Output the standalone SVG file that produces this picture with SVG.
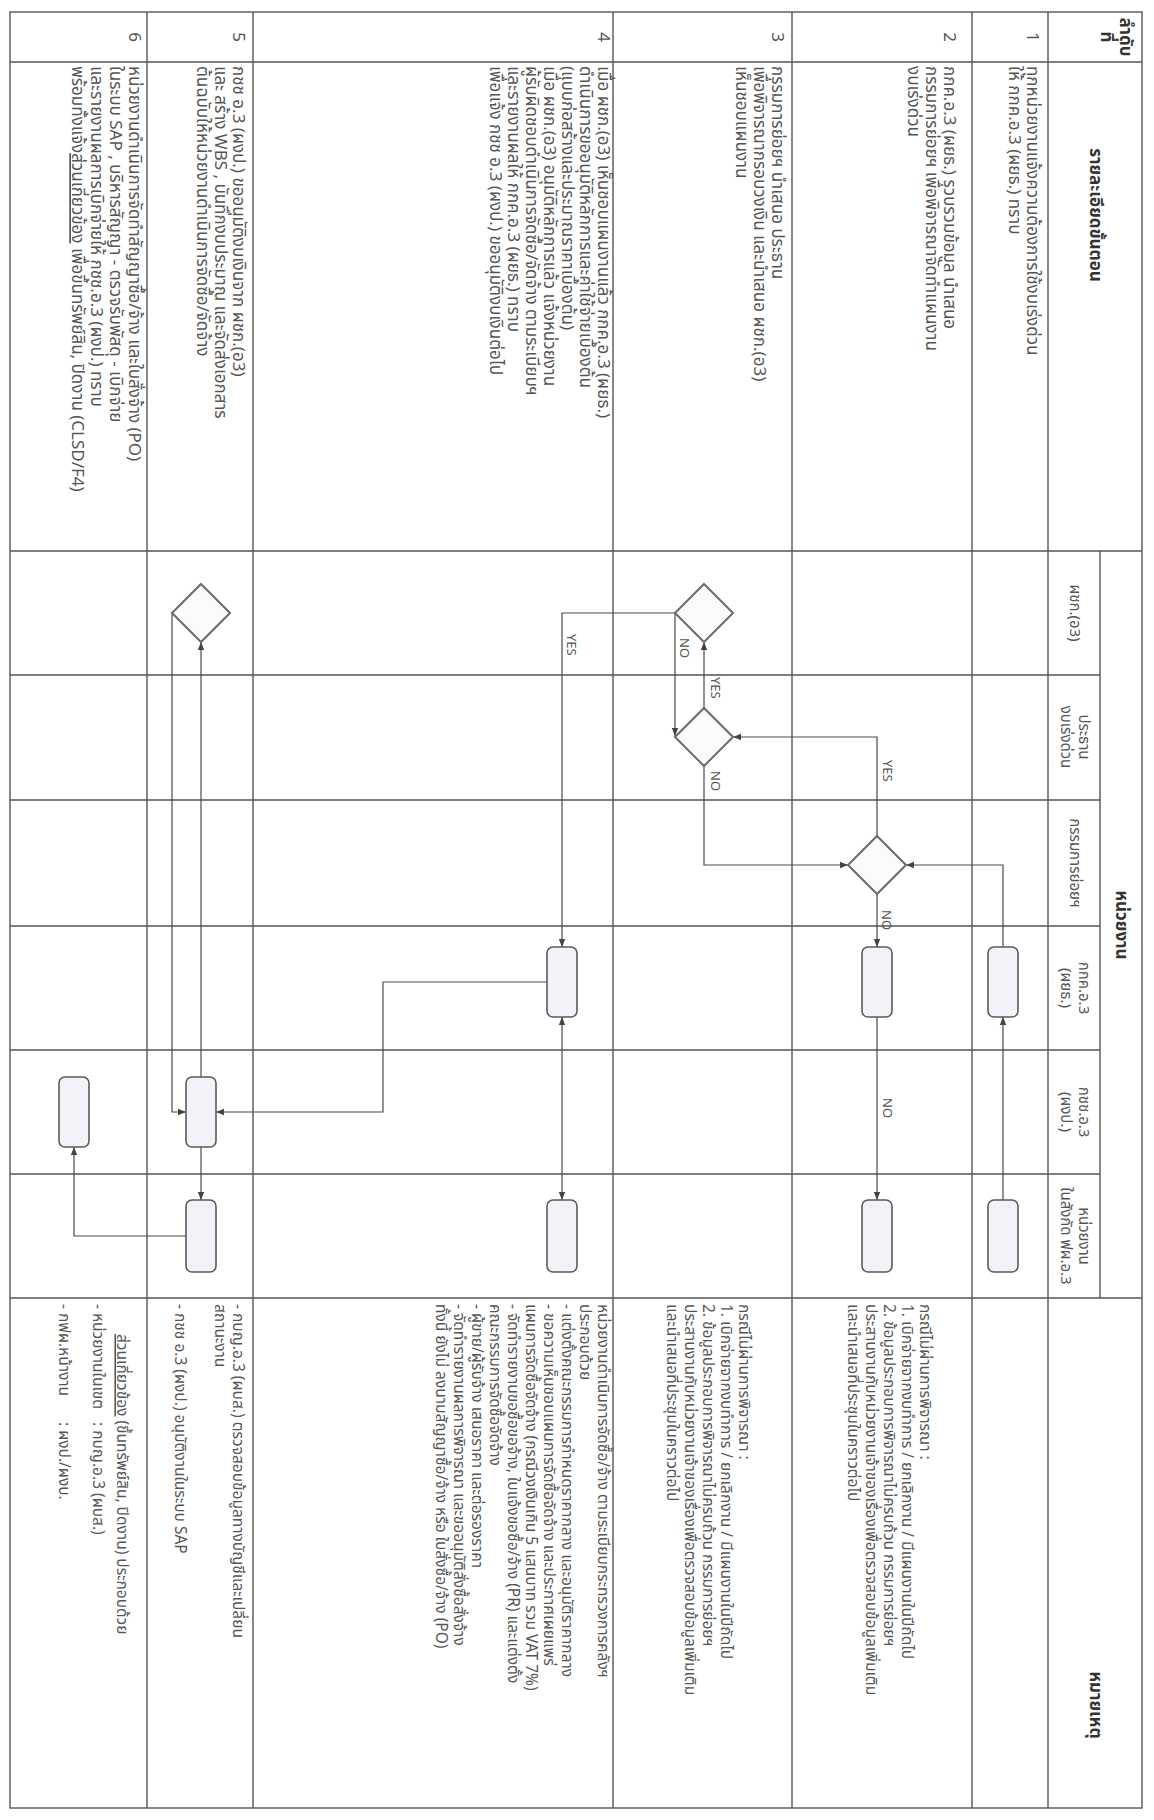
<svg xmlns="http://www.w3.org/2000/svg" width="1154" height="1820" viewBox="0 0 1154 1820">
<defs>
<marker id="ah" viewBox="0 0 10 10" refX="10" refY="5" markerWidth="8" markerHeight="8" orient="auto-start-reverse" markerUnits="userSpaceOnUse"><path d="M0,1 L10,5 L0,9 z" fill="#444"/></marker>
<style>
.t{font-family:"Noto Sans Thai","Noto Sans","DejaVu Sans",sans-serif;font-size:17px;fill:#555}
.n{font-size:15.5px}
.s{font-size:15px}
.h{font-weight:bold;fill:#333}
.c{text-anchor:middle}
.lbl{font-family:"Noto Sans","DejaVu Sans",sans-serif;font-size:13px;fill:#555}
.g{stroke:#555;stroke-width:1.4;fill:none}
.r{fill:#f2f2f8;stroke:#5a5a5a;stroke-width:1.6}
.d{fill:#fbfbfb;stroke:#6a6a6a;stroke-width:2}
.k{fill:none;stroke:#4a4a4a;stroke-width:1.2}
.a{marker-end:url(#ah)}
.b{marker-start:url(#ah);marker-end:url(#ah)}
</style>
</defs>
<rect width="1154" height="1820" fill="#ffffff"/>
<g id="grid" class="g">
<rect x="10" y="12" width="1132" height="1796"/>
<line x1="147" y1="12" x2="147" y2="1808"/>
<line x1="253" y1="12" x2="253" y2="1808"/>
<line x1="613" y1="12" x2="613" y2="1808"/>
<line x1="792" y1="12" x2="792" y2="1808"/>
<line x1="972" y1="12" x2="972" y2="1808"/>
<line x1="1048" y1="12" x2="1048" y2="1808"/>
<line x1="1100" y1="551" x2="1100" y2="1298"/>
<line x1="10" y1="62" x2="1142" y2="62"/>
<line x1="10" y1="551" x2="1142" y2="551"/>
<line x1="10" y1="675" x2="1100" y2="675"/>
<line x1="10" y1="800" x2="1100" y2="800"/>
<line x1="10" y1="926" x2="1100" y2="926"/>
<line x1="10" y1="1050" x2="1100" y2="1050"/>
<line x1="10" y1="1174" x2="1100" y2="1174"/>
<line x1="10" y1="1298" x2="1142" y2="1298"/>
</g>
<g id="header">
<text class="t h c" transform="translate(1120,37) rotate(90)">ลำดับ</text>
<text class="t h c" transform="translate(1101,37) rotate(90)">ที่</text>
<text class="t h c" transform="translate(1090,215) rotate(90)">รายละเอียดขั้นตอน</text>
<text class="t h c" transform="translate(1116,925) rotate(90)">หน่วยงาน</text>
<text class="t h c" transform="translate(1090,1705) rotate(90)">หมายเหตุ</text>
<text class="t s c" transform="translate(1070,613) rotate(90)">ผชก.(อ3)</text>
<text class="t s c" transform="translate(1079,737) rotate(90)">ประธาน</text>
<text class="t s c" transform="translate(1061,737) rotate(90)">งบเร่งด่วน</text>
<text class="t s c" transform="translate(1070,863) rotate(90)">กรรมการย่อยฯ</text>
<text class="t s c" transform="translate(1079,988) rotate(90)">กกค.อ.3</text>
<text class="t s c" transform="translate(1061,988) rotate(90)">(ผยธ.)</text>
<text class="t s c" transform="translate(1079,1112) rotate(90)">กชช.อ.3</text>
<text class="t s c" transform="translate(1061,1112) rotate(90)">(ผงป.)</text>
<text class="t s c" transform="translate(1079,1236) rotate(90)">หน่วยงาน</text>
<text class="t s c" transform="translate(1061,1236) rotate(90)">ในสังกัด ฟผ.อ.3</text>
</g>
<g id="row1">
<text class="t c" transform="translate(1027,37) rotate(90)">1</text>
<text class="t" transform="translate(1027,66) rotate(90)">ทุกหน่วยงานแจ้งความต้องการใช้งบเร่งด่วน</text>
<text class="t" transform="translate(1009,66) rotate(90)">ให้ กกค.อ.3 (ผยธ.) ทราบ</text>
</g>
<g id="row2">
<text class="t c" transform="translate(944,37) rotate(90)">2</text>
<text class="t" transform="translate(944,66) rotate(90)">กกค.อ.3 (ผยธ.) รวบรวมข้อมูล นำเสนอ</text>
<text class="t" transform="translate(926,66) rotate(90)">กรรมการย่อยฯ เพื่อพิจารณาจัดทำแผนงาน</text>
<text class="t" transform="translate(908,66) rotate(90)">งบเร่งด่วน</text>
</g>
<g id="row3">
<text class="t c" transform="translate(772,37) rotate(90)">3</text>
<text class="t" transform="translate(772,66) rotate(90)">กรรมการย่อยฯ นำเสนอ ประธาน</text>
<text class="t" transform="translate(754,66) rotate(90)">เพื่อพิจารณากรอบวงเงิน และนำเสนอ ผชก.(อ3)</text>
<text class="t" transform="translate(736,66) rotate(90)">เห็นชอบแผนงาน</text>
</g>
<g id="row4">
<text class="t c" transform="translate(598,37) rotate(90)">4</text>
<text class="t" transform="translate(598,66) rotate(90)">เมื่อ ผชก.(อ3) เห็นชอบแผนงานแล้ว กกค.อ.3 (ผยธ.)</text>
<text class="t" transform="translate(580,66) rotate(90)">ดำเนินการขออนุมัติหลักการและค่าใช้จ่ายเบื้องต้น</text>
<text class="t" transform="translate(562,66) rotate(90)">(แบบก่อสร้างและประมาณราคาเบื้องต้น)</text>
<text class="t" transform="translate(544,66) rotate(90)">เมื่อ ผชก.(อ3) อนุมัติหลักการแล้ว แจ้งหน่วยงาน</text>
<text class="t" transform="translate(526,66) rotate(90)">ผู้รับผิดชอบดำเนินการจัดซื้อ/จัดจ้าง ตามระเบียบฯ</text>
<text class="t" transform="translate(508,66) rotate(90)">และรายงานผลให้ กกค.อ.3 (ผยธ.) ทราบ</text>
<text class="t" transform="translate(490,66) rotate(90)">เพื่อแจ้ง กชช อ.3 (ผงป.) ขออนุมัติงบเงินต่อไป</text>
</g>
<g id="row5">
<text class="t c" transform="translate(233,37) rotate(90)">5</text>
<text class="t" transform="translate(233,66) rotate(90)">กชช อ.3 (ผงป.) ขออนุมัติงบเงินจาก ผชก.(อ3)</text>
<text class="t" transform="translate(215,66) rotate(90)">และ สร้าง WBS , บันทึกงบประมาณ และจัดส่งเอกสาร</text>
<text class="t" transform="translate(197,66) rotate(90)">ต้นฉบับให้หน่วยงานดำเนินการจัดซื้อ/จัดจ้าง</text>
</g>
<g id="row6">
<text class="t c" transform="translate(129,37) rotate(90)">6</text>
<text class="t" transform="translate(129,66) rotate(90)">หน่วยงานดำเนินการจัดทำสัญญาซื้อ/จ้าง และใบสั่งจ้าง (PO)</text>
<text class="t" transform="translate(110,66) rotate(90)">ในระบบ SAP , บริหารสัญญา - ตรวจรับพัสดุ - เบิกจ่าย</text>
<text class="t" transform="translate(91,66) rotate(90)">และรายงานผลการเบิกจ่ายให้ กชช.อ.3 (ผงป.) ทราบ</text>
<text class="t" transform="translate(72,66) rotate(90)">พร้อมทั้งแจ้ง<tspan text-decoration="underline">ส่วนเกี่ยวข้อง</tspan> เพื่อขึ้นทรัพย์สิน, ปิดงาน (CLSD/F4)</text>
</g>
<g id="notes">
<text class="t n" transform="translate(920,1304) rotate(90)">กรณีไม่ผ่านการพิจารณา :</text>
<text class="t n" transform="translate(902,1304) rotate(90)">1. เบิกจ่ายจากงบทำการ / ยกเลิกงาน / มีแผนงานในปีถัดไป</text>
<text class="t n" transform="translate(884,1304) rotate(90)">2. ข้อมูลประกอบการพิจารณาไม่ครบถ้วน กรรมการย่อยฯ</text>
<text class="t n" transform="translate(866,1304) rotate(90)">ประสานงานกับหน่วยงานเจ้าของเรื่องเพื่อตรวจสอบข้อมูลเพิ่มเติม</text>
<text class="t n" transform="translate(848,1304) rotate(90)">และนำเสนอที่ประชุมในคราวต่อไป</text>
<text class="t n" transform="translate(739,1304) rotate(90)">กรณีไม่ผ่านการพิจารณา :</text>
<text class="t n" transform="translate(721,1304) rotate(90)">1. เบิกจ่ายจากงบทำการ / ยกเลิกงาน / มีแผนงานในปีถัดไป</text>
<text class="t n" transform="translate(703,1304) rotate(90)">2. ข้อมูลประกอบการพิจารณาไม่ครบถ้วน กรรมการย่อยฯ</text>
<text class="t n" transform="translate(685,1304) rotate(90)">ประสานงานกับหน่วยงานเจ้าของเรื่องเพื่อตรวจสอบข้อมูลเพิ่มเติม</text>
<text class="t n" transform="translate(667,1304) rotate(90)">และนำเสนอที่ประชุมในคราวต่อไป</text>
<text class="t n" transform="translate(598,1304) rotate(90)">หน่วยงานดำเนินการจัดซื้อ/จ้าง ตามระเบียบกระทรวงการคลังฯ</text>
<text class="t n" transform="translate(580,1304) rotate(90)">ประกอบด้วย</text>
<text class="t n" transform="translate(562,1304) rotate(90)">- แต่งตั้งคณะกรรมการกำหนดราคากลาง และอนุมัติราคากลาง</text>
<text class="t n" transform="translate(544,1304) rotate(90)">- ขอความเห็นชอบแผนการจัดซื้อจัดจ้าง และประกาศเผยแพร่</text>
<text class="t n" transform="translate(526,1304) rotate(90)">แผนการจัดซื้อจัดจ้าง (กรณีวงเงินเกิน 5 แสนบาท รวม VAT 7%)</text>
<text class="t n" transform="translate(508,1304) rotate(90)">- จัดทำรายงานขอซื้อขอจ้าง, ใบแจ้งขอซื้อ/จ้าง (PR) และแต่งตั้ง</text>
<text class="t n" transform="translate(490,1304) rotate(90)">คณะกรรมการจัดซื้อจัดจ้าง</text>
<text class="t n" transform="translate(472,1304) rotate(90)">- ผู้ขาย/ผู้รับจ้าง เสนอราคา และต่อรองราคา</text>
<text class="t n" transform="translate(454,1304) rotate(90)">- จัดทำรายงานผลการพิจารณา และขออนุมัติสั่งซื้อสั่งจ้าง</text>
<text class="t n" transform="translate(436,1304) rotate(90)">ทั้งนี้ ยังไม่ ลงนามสัญญาซื้อ/จ้าง หรือ ใบสั่งซื้อ/จ้าง (PO)</text>
<text class="t n" transform="translate(233,1304) rotate(90)">- กบญ.อ.3 (ผบส.) ตรวจสอบข้อมูลทางบัญชีและเปลี่ยน</text>
<text class="t n" transform="translate(215,1304) rotate(90)">สถานะงาน</text>
<text class="t n" transform="translate(175,1304) rotate(90)">- กชช อ.3 (ผงป.) อนุมัติงานในระบบ SAP</text>
<text class="t n" transform="translate(117,1304) rotate(90)"><tspan x="30" text-decoration="underline">ส่วนเกี่ยวข้อง</tspan> (ขึ้นทรัพย์สิน, ปิดงาน) ประกอบด้วย</text>
<text class="t n" transform="translate(93,1304) rotate(90)">- หน่วยงานในเขต<tspan x="118">: กบญ.อ.3 (ผบส.)</tspan></text>
<text class="t n" transform="translate(59,1304) rotate(90)">- กฟผ.หน้างาน<tspan x="118">: ผงป./ผงบ.</tspan></text>
</g>
<g id="connectors" class="k">
<path class="a" d="M1003,1200 V1017"/>
<path class="a" d="M1003,947 V865 H906"/>
<path class="a" d="M877,836 V737 H733"/>
<path class="a" d="M877,894 V947"/>
<path class="a" d="M877,1017 V1200"/>
<path class="a" d="M704,766 V865 H848"/>
<path class="a" d="M704,708 V642"/>
<path class="a" d="M675,613 V736"/>
<path class="a" d="M675,613 H562 V947"/>
<path class="b" d="M562,1017 V1200"/>
<path class="a" d="M547,982 H383 V1112 H216"/>
<path class="a" d="M172,613 V1112 H186"/>
<path class="a" d="M201,1077 V642"/>
<path class="a" d="M201,1147 V1200"/>
<path class="a" d="M186,1236 H74 V1147"/>
</g>
<g id="labels">
<text class="lbl" transform="translate(567,634) rotate(90)">YES</text>
<text class="lbl" transform="translate(680,638) rotate(90)">NO</text>
<text class="lbl" transform="translate(711,677) rotate(90)">YES</text>
<text class="lbl" transform="translate(711,771) rotate(90)">NO</text>
<text class="lbl" transform="translate(883,760) rotate(90)">YES</text>
<text class="lbl" transform="translate(882,910) rotate(90)">NO</text>
<text class="lbl" transform="translate(883,1098) rotate(90)">NO</text>
</g>
<g id="n-r1a"><rect class="r" x="988" y="947" width="30" height="70" rx="6"/></g>
<g id="n-r1b"><rect class="r" x="988" y="1200" width="30" height="72" rx="6"/></g>
<g id="n-r2a"><rect class="r" x="862" y="947" width="30" height="70" rx="6"/></g>
<g id="n-r2b"><rect class="r" x="862" y="1200" width="30" height="72" rx="6"/></g>
<g id="n-r4a"><rect class="r" x="547" y="947" width="30" height="70" rx="6"/></g>
<g id="n-r4b"><rect class="r" x="547" y="1200" width="30" height="72" rx="6"/></g>
<g id="n-r5a"><rect class="r" x="186" y="1077" width="30" height="70" rx="6"/></g>
<g id="n-r5b"><rect class="r" x="186" y="1200" width="30" height="72" rx="6"/></g>
<g id="n-r6a"><rect class="r" x="59" y="1077" width="30" height="70" rx="6"/></g>
<g id="n-d1"><path class="d" d="M704,584 L733,613 L704,642 L675,613 Z"/></g>
<g id="n-d2"><path class="d" d="M704,708 L733,737 L704,766 L675,737 Z"/></g>
<g id="n-d3"><path class="d" d="M877,836 L906,865 L877,894 L848,865 Z"/></g>
<g id="n-d5"><path class="d" d="M201,584 L230,613 L201,642 L172,613 Z"/></g>
</svg>
